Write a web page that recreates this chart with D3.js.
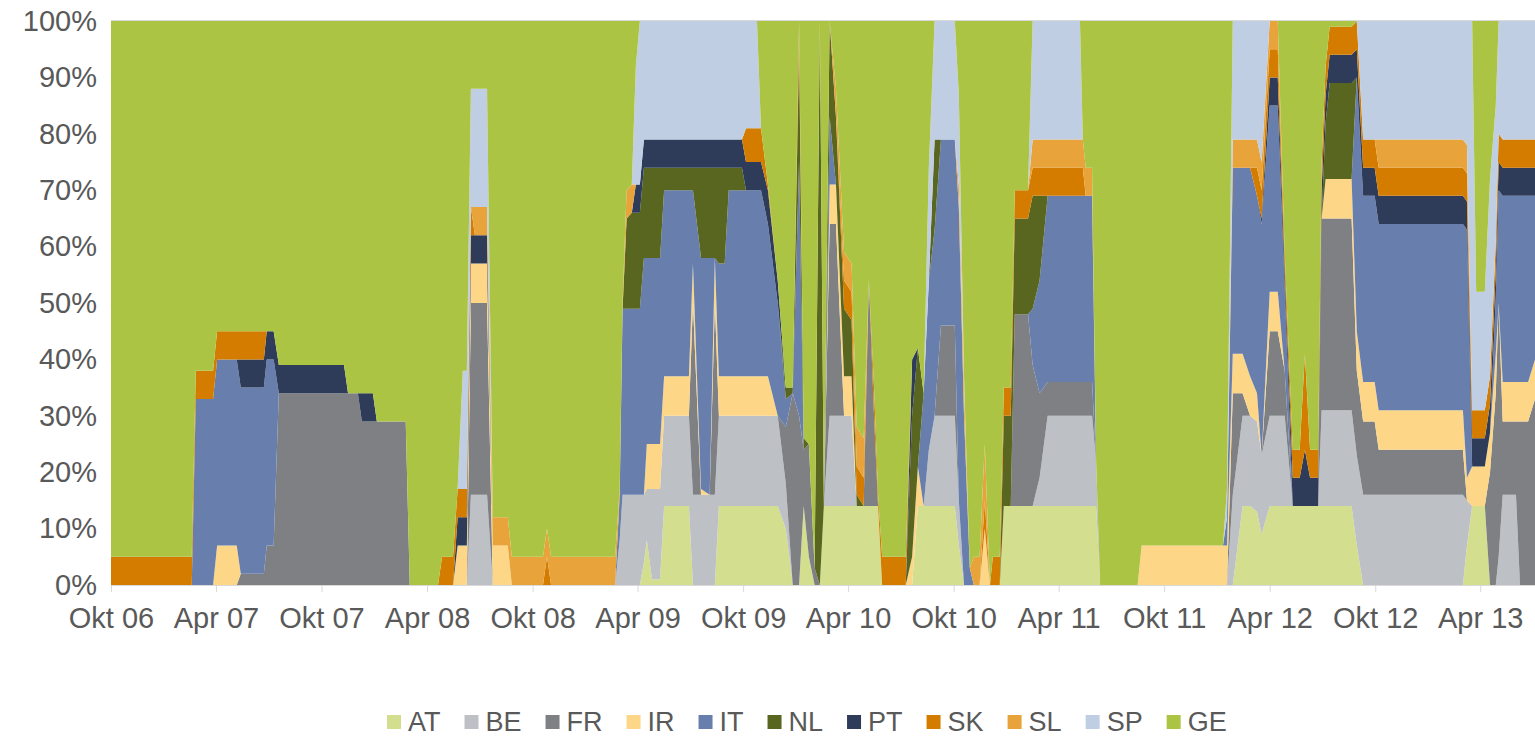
<!DOCTYPE html>
<html>
<head>
<meta charset="utf-8">
<script src="https://cdn.jsdelivr.net/npm/d3@7"></script>
<style>
  html, body { margin: 0; padding: 0; background: #fff; }
  svg { display: block; font-family: "Liberation Sans", Arial, sans-serif; }
</style>
</head>
<body>
<svg id="chart" width="1535" height="739"></svg>
<script>
// shares in %, one column per observation date (stack order bottom -> top)
const dates = [
  "2006-10-01","2007-02-18","2007-02-25","2007-03-27","2007-04-03","2007-05-07","2007-05-14","2007-06-23","2007-06-28","2007-07-10",
  "2007-07-19","2007-11-09","2007-11-16","2007-12-03","2007-12-10","2007-12-29","2008-01-05","2008-02-24","2008-03-02","2008-04-20",
  "2008-04-27","2008-05-16","2008-05-24","2008-06-02","2008-06-09","2008-06-16","2008-06-23","2008-07-14","2008-07-24","2008-08-19",
  "2008-08-26","2008-10-19","2008-10-26","2008-11-02","2009-02-21","2009-03-01","2009-03-06","2009-03-13","2009-03-22","2009-03-29",
  "2009-04-05","2009-04-12","2009-04-17","2009-04-26","2009-05-10","2009-05-17","2009-06-29","2009-07-06","2009-07-20","2009-08-04",
  "2009-08-13","2009-08-20","2009-08-30","2009-09-06","2009-09-29","2009-10-06","2009-10-25","2009-11-01","2009-11-13","2009-11-30",
  "2009-12-14","2009-12-26","2010-01-06","2010-01-14","2010-01-23","2010-02-02","2010-02-11","2010-02-18","2010-02-28","2010-03-11",
  "2010-03-25","2010-04-07","2010-04-16","2010-04-28","2010-05-07","2010-05-16","2010-05-23","2010-05-30","2010-07-10","2010-07-21",
  "2010-07-31","2010-08-10","2010-08-19","2010-08-29","2010-09-09","2010-10-03","2010-10-10","2010-10-19","2010-10-29","2010-11-05",
  "2010-11-15","2010-11-24","2010-12-03","2010-12-08","2010-12-20","2010-12-27","2011-01-08","2011-01-15","2011-02-07","2011-02-15",
  "2011-02-27","2011-03-13","2011-05-08","2011-05-13","2011-05-18","2011-05-29","2011-06-05","2011-06-12","2011-08-16","2011-08-23",
  "2012-01-11","2012-01-18","2012-01-28","2012-02-14","2012-02-27","2012-03-10","2012-03-18","2012-04-01","2012-04-15","2012-04-27",
  "2012-05-11","2012-05-23","2012-06-01","2012-06-10","2012-06-24","2012-06-30","2012-07-07","2012-07-14","2012-08-21","2012-08-30",
  "2012-09-10","2012-09-30","2012-10-07","2013-03-02","2013-03-09","2013-03-18","2013-03-25","2013-04-09","2013-04-18","2013-04-28",
  "2013-05-03","2013-05-10","2013-06-02","2013-06-09","2013-06-23","2013-07-05"
];

const AT = [
  0,0,0,0,0,0,0,0,0,0,  0,0,0,0,0,0,0,0,0,0,  0,0,0,0,0,0,0,0,0,0,  0,0,0,0,0,0,0,0,0,0,
  0,4,8,1,1,14,14,0,0,0,  0,14,14,14,14,14,14,14,14,14,  10,0,0,14,5,0,0,14,14,14,  14,14,14,14,14,14,14,0,0,0,
  14,14,14,14,14,14,7,0,0,0,  0,0,0,0,0,14,14,14,14,14,  14,14,14,14,14,14,14,0,0,0,  0,0,0,14,14,13,9,14,14,14,
  14,14,14,14,14,14,14,14,14,7,  0,0,0,0,7,14,14,14,0,0,  0,0,0,0,0,0
];
const BE = [
  0,0,0,0,0,0,0,0,0,0,  0,0,0,0,0,0,0,0,0,0,  0,0,0,0,0,16,16,16,0,0,  0,0,0,0,0,8,16,16,16,16,
  16,12,9,16,16,16,16,16,16,16,  16,16,16,16,16,16,16,16,16,16,  8,0,0,0,0,0,0,0,16,16,  16,16,0,0,0,0,0,0,0,0,
  0,0,10,16,16,16,8,0,0,0,  0,0,0,0,0,0,0,0,0,0,  5,16,16,16,16,16,8,0,0,0,  0,0,16,16,16,16,14,16,16,16,
  0,0,0,0,0,17,17,17,17,16,  16,16,16,16,8,0,0,0,0,0,  5,16,16,0,0,0
];
const FR = [
  0,0,0,0,0,0,2,2,7,7,  34,34,34,34,29,29,29,29,0,0,  0,0,0,0,0,34,34,34,0,0,  0,0,0,0,0,0,0,0,0,0,
  0,0,0,0,0,0,0,34,0,0,  34,0,0,0,0,0,0,0,0,0,  10,34,30,10,20,3,0,0,34,34,  0,0,0,0,40,16,0,0,0,0,
  0,0,0,0,16,16,0,0,0,0,  0,0,0,0,0,0,0,34,34,25,  15,6,6,6,6,6,0,0,0,0,  0,0,18,4,0,0,0,15,15,8,
  0,0,0,0,0,34,34,34,34,15,  13,13,8,8,0,0,0,0,20,34,  45,13,13,29,29,33
];
const IR = [
  0,0,0,0,7,7,0,0,0,0,  0,0,0,0,0,0,0,0,0,0,  0,0,7,7,7,7,7,7,7,7,  0,0,0,0,0,0,0,0,0,0,
  0,0,8,8,8,7,7,7,1,0,  8,7,7,7,7,7,7,7,7,0,  0,0,0,0,0,0,0,0,7,7,  7,7,0,0,0,0,0,0,0,5,
  7,0,0,0,0,0,0,0,0,0,  0,10,0,0,0,0,0,0,0,0,  0,0,0,0,0,0,0,0,0,7,  7,7,7,7,7,5,0,7,7,0,
  0,0,0,0,0,0,7,7,7,7,  7,7,7,7,4,7,7,7,7,7,  0,7,7,7,7,7
];
const IT = [
  0,0,33,33,33,33,33,33,33,33,  0,0,0,0,0,0,0,0,0,0,  0,0,0,0,0,0,0,0,0,0,  0,0,0,0,0,8,33,33,33,33,
  33,42,33,33,33,33,33,13,41,42,  0,20,20,33,33,33,33,33,27,20,  5,0,45,0,0,0,0,0,12,0,  0,0,0,0,0,0,0,0,0,0,
  0,20,30,33,33,33,52,30,3,0,  0,0,0,0,0,0,0,0,0,10,  20,33,33,33,33,33,0,0,0,0,  0,5,33,33,37,35,41,33,33,15,
  0,0,0,0,0,0,0,0,0,45,  33,33,33,33,44,0,0,0,0,10,  20,33,33,33,33,29
];
const NL = [
  0,0,0,0,0,0,0,0,0,0,  0,0,0,0,0,0,0,0,0,0,  0,0,0,0,0,0,0,0,0,0,  0,0,0,0,0,0,0,16,17,17,
  17,16,16,16,16,4,4,4,16,16,  16,17,17,4,4,0,0,0,0,0,  2,1,20,2,0,0,100,0,17,12,  12,10,2,0,0,0,0,0,0,25,
  21,0,0,16,0,0,0,0,0,0,  0,0,0,0,0,16,16,17,17,20,  15,0,0,0,0,0,0,0,0,0,  0,0,0,0,0,0,0,0,0,0,
  0,0,0,0,0,0,10,17,17,0,  0,0,0,0,0,0,0,0,0,0,  0,0,0,0,0,0
];
const PT = [
  0,0,0,0,0,0,5,5,5,5,  5,5,0,0,5,5,0,0,0,0,  0,0,5,5,5,5,5,5,0,0,  0,0,0,0,0,0,0,0,0,5,
  5,5,5,5,5,5,5,5,5,5,  5,5,5,5,5,5,5,5,6,4,  0,0,0,0,0,0,0,0,0,0,  0,0,0,0,0,0,0,0,0,10,
  0,0,0,0,0,0,0,0,0,0,  0,0,0,0,0,0,0,0,0,0,  0,0,0,0,0,0,0,0,0,0,  0,0,0,0,0,0,1,5,5,3,
  5,5,10,5,5,5,5,5,5,5,  5,5,5,5,5,5,5,5,5,5,  5,5,5,5,5,5
];
const SK = [
  5,5,5,5,5,5,5,5,0,0,  0,0,0,0,0,0,0,0,0,0,  5,5,5,5,5,5,0,0,0,0,  0,0,5,0,0,0,0,0,0,0,
  0,0,0,0,0,0,0,0,0,0,  0,0,0,0,0,6,6,6,1,0,  0,0,5,0,0,0,0,0,0,0,  5,5,5,5,0,5,2,5,5,0,
  0,0,0,0,0,0,0,0,0,0,  0,5,0,5,5,5,5,5,5,5,  5,5,5,5,0,0,0,0,0,0,  0,0,0,0,0,5,5,5,5,3,
  5,5,17,5,5,5,5,5,5,5,  5,5,5,5,5,5,5,5,5,5,  5,5,5,5,5,5
];
const SL = [
  0,0,0,0,0,0,0,0,0,0,  0,0,0,0,0,0,0,0,0,0,  0,0,0,0,0,0,5,5,5,5,  5,5,5,5,5,1,1,5,5,0,
  0,0,0,0,0,0,0,0,0,0,  0,0,0,0,0,0,0,0,0,0,  0,0,0,0,0,0,0,0,0,5,  5,5,7,7,0,0,0,0,0,0,
  0,0,0,0,0,0,4,5,0,5,  5,10,0,0,0,0,0,0,0,5,  5,5,5,5,5,5,0,0,0,0,  0,0,5,5,5,5,5,5,5,0,
  0,0,0,0,0,0,0,0,0,0,  0,0,5,5,5,0,0,0,0,0,  0,0,0,0,0,0
];
const SP = [
  0,0,0,0,0,0,0,0,0,0,  0,0,0,0,0,0,0,0,0,0,  0,0,0,21,21,21,21,21,0,0,  0,0,0,0,0,0,0,0,0,21,
  29,21,21,21,21,21,21,21,21,21,  21,21,21,21,21,19,19,0,0,0,  0,0,0,0,0,0,0,0,0,0,  0,0,0,0,0,0,0,0,0,0,
  0,0,20,21,21,21,16,2,0,0,  0,0,0,0,0,0,0,0,0,21,  21,21,21,0,0,0,0,0,0,0,  0,5,21,21,21,21,25,0,0,0,
  0,0,0,0,0,0,0,0,0,0,  21,21,21,21,22,69,21,21,35,24,  20,21,21,21,21,21
];
const GE = [
  95,95,62,62,55,55,55,55,55,55,  61,61,66,66,66,66,71,71,100,100,  95,95,83,62,62,12,12,12,88,88,  95,95,90,95,95,83,50,30,29,8,
  0,0,0,0,0,0,0,0,0,0,  0,0,0,0,0,0,0,19,29,46,  65,65,0,74,75,97,0,86,0,12,  41,43,72,74,46,65,84,95,95,60,
  58,66,26,0,0,0,13,63,97,95,  95,75,100,95,95,65,65,30,30,0,  0,0,0,21,26,26,78,100,100,93,  93,83,0,0,0,0,0,0,0,41,
  76,76,59,76,76,25,8,1,1,0,  0,0,0,0,0,0,48,48,28,15,  0,0,0,0,0,0
];

const countries = ["AT", "BE", "FR", "IR", "IT", "NL", "PT", "SK", "SL", "SP", "GE"];
const colors = ["#d3df8f", "#bdc1c5", "#7e8084", "#fdd688", "#687fae", "#58661f", "#2f3c59", "#d37c00", "#e8a43b", "#c0cee4", "#acc444"];
const tickDates = ["2006-10-01","2007-04-01","2007-10-01","2008-04-01","2008-10-01","2009-04-01","2009-10-01",
                   "2010-04-01","2010-10-01","2011-04-01","2011-10-01","2012-04-01","2012-10-01","2013-04-01"];
const tickLabels = ["Okt 06","Apr 07","Okt 07","Apr 08","Okt 08","Apr 09","Okt 09",
                    "Apr 10","Okt 10","Apr 11","Okt 11","Apr 12","Okt 12","Apr 13"];
const yTicks = [0, 10, 20, 30, 40, 50, 60, 70, 80, 90, 100];

const parse = d3.utcParse("%Y-%m-%d");
const series = { AT, BE, FR, IR, IT, NL, PT, SK, SL, SP, GE };
const rows = dates.map((d, i) => {
  const r = { date: parse(d) };
  countries.forEach(c => { r[c] = series[c][i]; });
  return r;
});

const svg = d3.select("#chart");
const margin = { top: 21, right: 0, bottom: 154, left: 111 };
const W = 1535, H = 739;
const textColor = "#595959";
const axisFont = 29;
const legendFont = 27;

const x = d3.scaleUtc()
  .domain([parse(dates[0]), parse(dates[dates.length - 1])])
  .range([margin.left, W - margin.right]);
const y = d3.scaleLinear().domain([0, 100]).range([H - margin.bottom, margin.top]);

const stack = d3.stack().keys(countries).offset(d3.stackOffsetExpand);
const layers = stack(rows);

const area = d3.area()
  .x(d => x(d.data.date))
  .y0(d => y(d[0] * 100))
  .y1(d => y(d[1] * 100));

// top gridline
svg.append("line")
  .attr("x1", margin.left).attr("x2", W)
  .attr("y1", y(100) - 0.5).attr("y2", y(100) - 0.5)
  .attr("stroke", "#d9d9d9");

svg.append("g")
  .selectAll("path")
  .data(layers)
  .join("path")
  .attr("fill", (d, i) => colors[i])
  .attr("d", area);

// y axis
const yAxis = svg.append("g")
  .attr("transform", `translate(${margin.left},0)`)
  .call(d3.axisLeft(y).tickValues(yTicks).tickFormat(d => d + "%").tickSize(0).tickPadding(14));
yAxis.select(".domain").remove();
yAxis.selectAll("text")
  .attr("fill", textColor)
  .attr("font-size", axisFont)
  .attr("font-family", "Liberation Sans, Arial, sans-serif");

// x axis
const xAxis = svg.append("g")
  .attr("transform", `translate(0,${y(0)})`)
  .call(d3.axisBottom(x)
    .tickValues(tickDates.map(parse))
    .tickFormat((d, i) => tickLabels[i])
    .tickSize(7)
    .tickPadding(15));
xAxis.select(".domain").attr("stroke", "#d9d9d9").attr("d", `M${margin.left},0.5H${W}`);
xAxis.selectAll(".tick line").attr("stroke", "#d9d9d9");
xAxis.selectAll("text")
  .attr("fill", textColor)
  .attr("font-size", axisFont)
  .attr("font-family", "Liberation Sans, Arial, sans-serif");

// legend
const legend = svg.append("g").attr("transform", "translate(387,722)");
let lx = 0;
countries.forEach((c, i) => {
  const g = legend.append("g").attr("transform", `translate(${lx},0)`);
  g.append("rect")
    .attr("x", 0).attr("y", -7)
    .attr("width", 14).attr("height", 14)
    .attr("fill", colors[i]);
  const t = g.append("text")
    .attr("x", 21).attr("y", 9)
    .attr("fill", textColor)
    .attr("font-size", legendFont)
    .text(c);
  lx += 21 + t.node().getComputedTextLength() + 24;
});
</script>
</body>
</html>
